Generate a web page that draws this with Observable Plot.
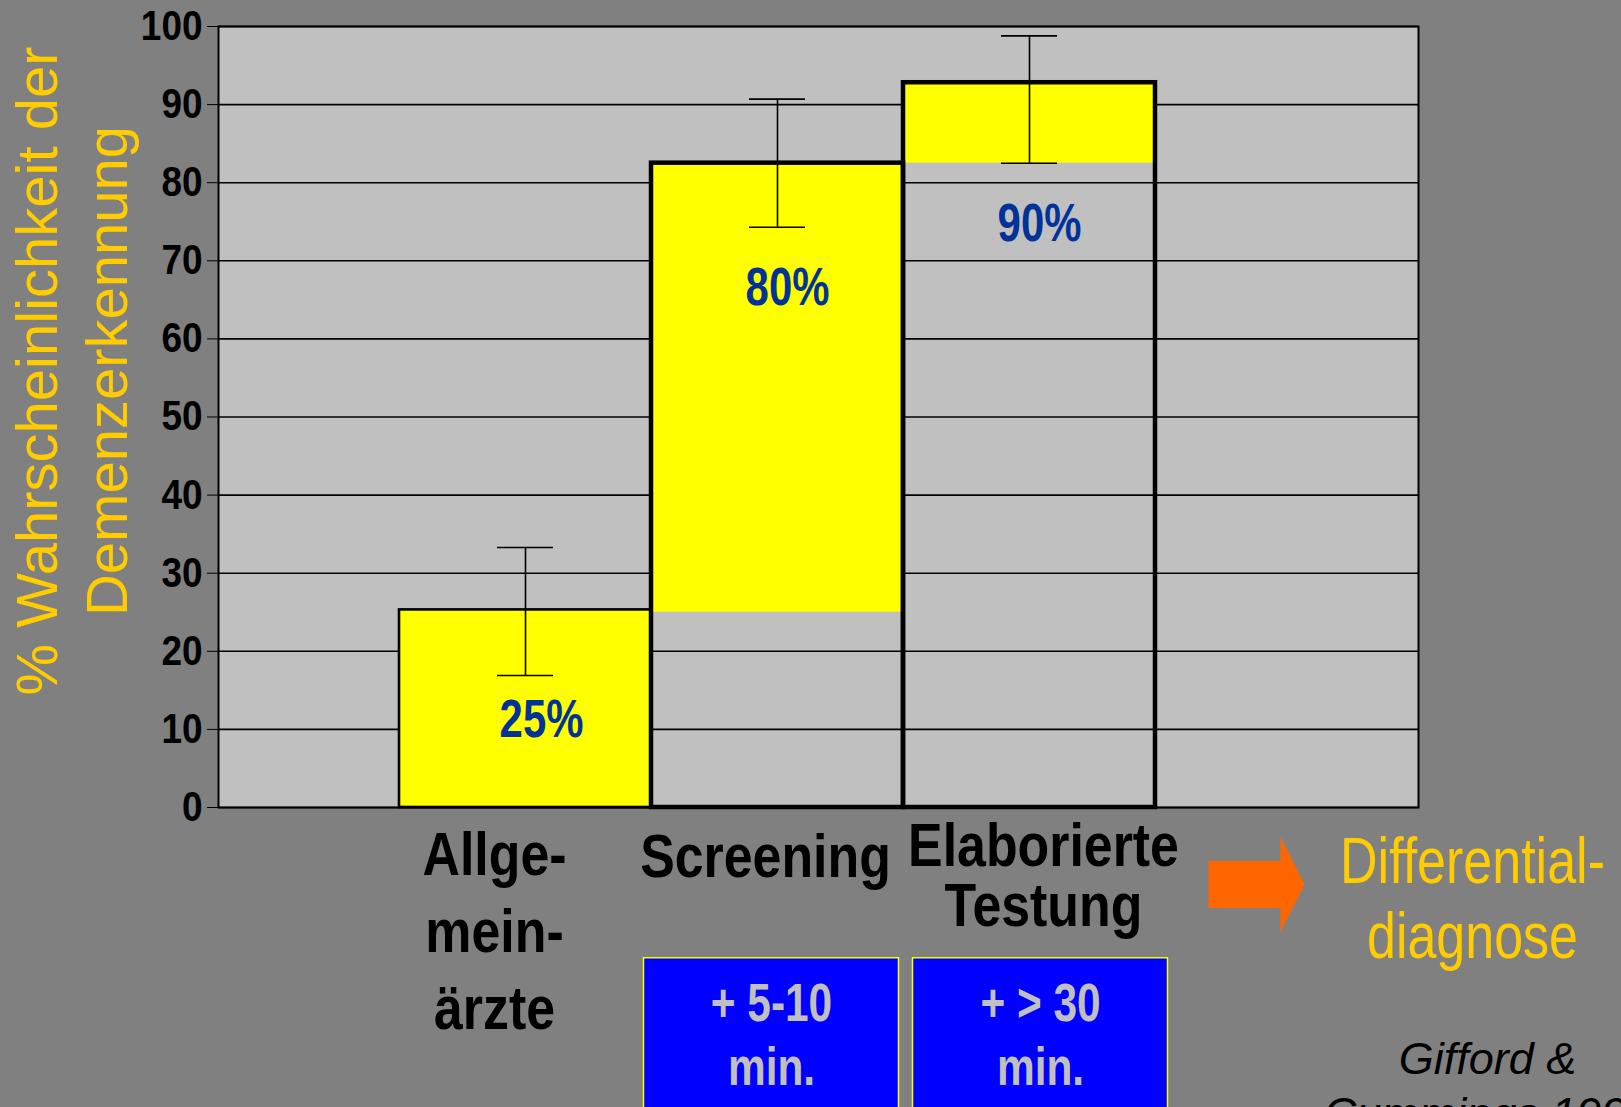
<!DOCTYPE html>
<html><head><meta charset="utf-8">
<script src="https://cdn.jsdelivr.net/npm/d3@7"></script>
<script src="https://cdn.jsdelivr.net/npm/@observablehq/plot@0.6"></script>
<style>html,body{margin:0;padding:0;background:#808080;overflow:hidden}</style>
</head><body><div id="chart"></div>
<script>
// ---- data ----
const categories = ["Allge-\nmein-\närzte", "Screening", "Elaborierte\nTestung"];
const barTops = [25.3, 82.5, 92.8];
const yellowBases = [0, 25, 82.5];
const errLow = [16.9, 74.3, 82.5];
const errHigh = [33.3, 90.7, 98.8];
const valueLabels = ["25%", "80%", "90%"];
const yTicks = [0, 10, 20, 30, 40, 50, 60, 70, 80, 90, 100];
const timeCategories = ["Screening", "Elaborierte\nTestung"];
const timeLabels = ["+ 5-10\nmin.", "+ > 30\nmin."];
const yTitle = "% Wahrscheinlichkeit der\nDemenzerkennung";
const sideLabel = "Differential-\ndiagnose";
const citation = "Gifford &\nCummings 1999";

const bars = categories.map((c, i) => ({cat: c, top: barTops[i], base: yellowBases[i], lo: errLow[i], hi: errHigh[i], label: valueLabels[i]}));
const boxes = timeCategories.map((c, i) => ({cat: c, text: timeLabels[i]}));

const SANS = "'Liberation Sans',Arial,'Helvetica',sans-serif";
const YELLOW = "#FFFF00", GOLD = "#FFCC00", LABELBLUE = "#003399";

const blockArrow = {
  draw(ctx) {
    ctx.moveTo(-48, -23.5); ctx.lineTo(24, -23.5); ctx.lineTo(24, -47.5);
    ctx.lineTo(48, 0); ctx.lineTo(24, 47.5); ctx.lineTo(24, 23.5);
    ctx.lineTo(-48, 23.5); ctx.closePath();
  }
};

const catText = {text: "cat", frameAnchor: "bottom", lineAnchor: "top", textAnchor: "middle", fill: "#000", fontSize: 61, fontWeight: "bold", fontFamily: SANS, ariaDescription: "sx:0.85"};
const boxText = {x: "cat", y: -19.3, text: "text", lineAnchor: "top", dy: 17.6, lineHeight: 1.208, fill: "#C0C0C0", fontSize: 53, fontWeight: "bold", fontFamily: SANS, ariaDescription: "sx:0.80"};
const boxRect = {x: "cat", y1: -19.3, y2: -40, fill: "#0000FF", stroke: YELLOW, strokeWidth: 1.5, insetLeft: -1.5, insetRight: -1.5};

const svg = Plot.plot({
  width: 1621, height: 1107,
  marginLeft: 218, marginRight: 203, marginTop: 26, marginBottom: 300,
  style: {background: "#808080", color: "#000", fontFamily: SANS, fontSize: "42px", fontWeight: "bold", overflow: "hidden"},
  x: {domain: categories, type: "band", paddingInner: 0, paddingOuter: 0.8746, align: 0.407, axis: null},
  y: {domain: [0, 100], ticks: yTicks, tickSize: 11, tickPadding: 5, label: null},
  marks: [
    Plot.frame({fill: "#C0C0C0"}),
    Plot.ruleY(yTicks, {stroke: "#000", strokeWidth: 1.6}),
    Plot.barY(bars, {x: "cat", y1: "base", y2: "top", fill: YELLOW}),
    Plot.barY(bars, {x: "cat", y1: 0, y2: "top", fill: "none", stroke: "#000", strokeWidth: (d, i) => i === 0 ? 2.6 : 4.5}),
    Plot.frame({stroke: "#000", strokeWidth: 2}),
    Plot.ruleX(bars, {x: "cat", y1: "lo", y2: "hi", stroke: "#000", strokeWidth: 1.6}),
    Plot.tickY(bars, {x: "cat", y: "lo", insetLeft: 98, insetRight: 98, stroke: "#000", strokeWidth: 1.6}),
    Plot.tickY(bars, {x: "cat", y: "hi", insetLeft: 98, insetRight: 98, stroke: "#000", strokeWidth: 1.6}),
    // value labels
    Plot.text(bars.slice(0, 1), {x: "cat", y: "lo", text: "label", dy: 45, dx: 16, fill: LABELBLUE, fontSize: 53, fontWeight: "bold", fontFamily: SANS, ariaDescription: "sx:0.79"}),
    Plot.text(bars.slice(1), {x: "cat", y: "lo", text: "label", dy: 61, dx: 10, fill: LABELBLUE, fontSize: 53, fontWeight: "bold", fontFamily: SANS, ariaDescription: "sx:0.79"}),
    // category labels
    Plot.text(bars.slice(0, 1), {...catText, x: "cat", dy: 13.3, dx: -31, lineHeight: 1.262}),
    Plot.text(bars.slice(1, 2), {...catText, x: "cat", dy: 25.7, dx: -12}),
    Plot.text(bars.slice(2), {...catText, x: "cat", dy: 15.4, dx: 14, lineHeight: 0.984}),
    // time boxes
    Plot.barY(boxes.slice(0, 1), {...boxRect, dx: -6}),
    Plot.barY(boxes.slice(1), {...boxRect, dx: 11}),
    Plot.text(boxes.slice(0, 1), {...boxText, dx: -6}),
    Plot.text(boxes.slice(1), {...boxText, dx: 11}),
    // arrow and side annotations
    Plot.dot([sideLabel], {frameAnchor: "bottom-right", dx: -162, dy: 77, symbol: blockArrow, fill: "#FF6600", stroke: "none"}),
    Plot.text([sideLabel], {frameAnchor: "bottom-right", textAnchor: "middle", dx: 54, dy: 22, lineAnchor: "top", lineHeight: 1.154, fill: GOLD, fontSize: 65, fontWeight: "normal", fontFamily: SANS, ariaDescription: "sx:0.80"}),
    Plot.text([citation], {frameAnchor: "bottom-right", textAnchor: "middle", dx: 69, dy: 228, lineAnchor: "top", lineHeight: 1.22, fill: "#000", fontSize: 45, fontWeight: "normal", fontStyle: "italic", fontFamily: SANS}),
    Plot.text([yTitle], {frameAnchor: "left", textAnchor: "middle", rotate: -90, dx: -149, dy: -46, lineHeight: 1.2, fill: GOLD, fontSize: 58, fontWeight: "normal", fontFamily: SANS})
  ]
});
document.getElementById("chart").append(svg);
svg.querySelectorAll('g[aria-description^="sx:"]').forEach(g => {
  const s = +g.getAttribute("aria-description").slice(3);
  g.querySelectorAll("text").forEach(t => t.setAttribute("transform", (t.getAttribute("transform") || "") + ` scale(${s},1)`));
});
// y tick labels: narrow bold numbers
svg.querySelectorAll('g[aria-label^="y-axis"] text').forEach(t => {
  t.setAttribute("transform", (t.getAttribute("transform") || "") + " scale(0.88,1)");
});
</script></body></html>
